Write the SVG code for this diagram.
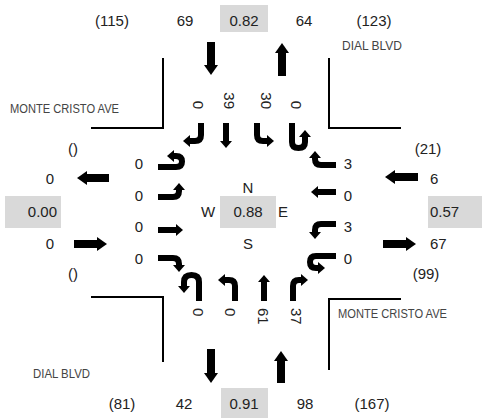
<svg xmlns="http://www.w3.org/2000/svg" width="482" height="418" viewBox="0 0 482 418">
<style>
text{font-family:"Liberation Sans",Arial,sans-serif;fill:#222}
.n{font-size:15px}
.c{text-anchor:middle}
.e{text-anchor:end}
.st{font-size:12px;fill:#444}
.box{fill:#d9d9d9}
.curb{fill:none;stroke:#000;stroke-width:2}
.lane{fill:none;stroke:#000;stroke-width:6;marker-end:url(#lh)}
.big{fill:none;stroke:#000;stroke-width:8;marker-end:url(#bh)}
</style>
<defs>
<marker id="lh" markerUnits="userSpaceOnUse" viewBox="0 0 7 12" markerWidth="7" markerHeight="12" refX="0" refY="6" orient="auto"><path d="M0,0 L7,6 L0,12 z" fill="#000"/></marker>
<marker id="bh" markerUnits="userSpaceOnUse" viewBox="0 0 10 14" markerWidth="10" markerHeight="14" refX="0" refY="7" orient="auto"><path d="M0,0 L10,7 L0,14 z" fill="#000"/></marker>
</defs>
<rect width="482" height="418" fill="#fff"/>

<g id="curbs">
<path class="curb" d="M163,58 V128 H91"/>
<path class="curb" d="M329,58 V128 H401"/>
<path class="curb" d="M91,297 H163 V362"/>
<path class="curb" d="M401,299 H329 V370"/>
</g>

<g id="street-names">
<text class="st" x="10" y="113" textLength="109" lengthAdjust="spacingAndGlyphs">MONTE CRISTO AVE</text>
<text class="st" x="342" y="50">DIAL BLVD</text>
<text class="st" x="338" y="318" textLength="109" lengthAdjust="spacingAndGlyphs">MONTE CRISTO AVE</text>
<text class="st" x="33" y="378" textLength="57" lengthAdjust="spacingAndGlyphs">DIAL BLVD</text>
</g>

<g id="center">
<rect class="box" x="220" y="196" width="56" height="32"/>
<text class="n c" x="248" y="217">0.88</text>
<text class="n c" x="248" y="193">N</text>
<text class="n c" x="248" y="249">S</text>
<text class="n c" x="208" y="217">W</text>
<text class="n c" x="283" y="217">E</text>
</g>

<g id="north">
<rect class="box" x="220" y="5" width="48" height="27"/>
<text class="n c" x="244" y="26">0.82</text>
<text class="n c" x="112" y="26">(115)</text>
<text class="n c" x="185" y="26">69</text>
<text class="n c" x="304" y="26">64</text>
<text class="n c" x="374" y="26">(123)</text>
<path class="big" d="M211,42 V65"/>
<path class="big" d="M282,76 V53"/>
<text class="n e" transform="translate(198,109) rotate(90)" y="5.4">0</text>
<text class="n e" transform="translate(229,109) rotate(90)" y="5.4">39</text>
<text class="n e" transform="translate(266,109) rotate(90)" y="5.4">30</text>
<text class="n e" transform="translate(296,109) rotate(90)" y="5.4">0</text>
<path class="lane" d="M201,123 V135 Q201,141 195,141 H190"/>
<path class="lane" d="M226,123 V141"/>
<path class="lane" d="M257,123 V135 Q257,141 263,141 H267"/>
<path class="lane" d="M292,123 V142 Q292,148 298.5,148 Q305,148 305,142 V137"/>
</g>

<g id="south">
<rect class="box" x="221" y="388" width="47" height="30"/>
<text class="n c" x="244" y="409">0.91</text>
<text class="n c" x="122" y="409">(81)</text>
<text class="n c" x="184" y="409">42</text>
<text class="n c" x="305" y="409">98</text>
<text class="n c" x="372" y="409">(167)</text>
<path class="big" d="M211,349 V373"/>
<path class="big" d="M281,383 V361"/>
<text class="n" transform="translate(198,308) rotate(90)" y="5.4">0</text>
<text class="n" transform="translate(230,308) rotate(90)" y="5.4">0</text>
<text class="n" transform="translate(263,308) rotate(90)" y="5.4">61</text>
<text class="n" transform="translate(296,308) rotate(90)" y="5.4">37</text>
<path class="lane" d="M199,301 V282 Q199,275 191.5,275 Q184,275 184,282 V286"/>
<path class="lane" d="M235,301 V286 Q235,280 229,280 H225"/>
<path class="lane" d="M264,301 V282"/>
<path class="lane" d="M293,301 V286 Q293,280 299,280 H301"/>
</g>

<g id="west">
<rect class="box" x="5" y="196" width="56" height="32"/>
<text class="n e" x="57" y="217">0.00</text>
<text class="n c" x="73" y="154">()</text>
<text class="n c" x="50" y="184">0</text>
<text class="n c" x="50" y="249">0</text>
<text class="n c" x="73" y="279">()</text>
<path class="big" d="M109,178 H87"/>
<path class="big" d="M74,244 H97"/>
<text class="n c" x="139" y="169">0</text>
<text class="n c" x="139" y="201">0</text>
<text class="n c" x="139" y="232">0</text>
<text class="n c" x="139" y="264">0</text>
<path class="lane" d="M158,167 H176 Q182,167 182,161.5 Q182,156 176,156 H174"/>
<path class="lane" d="M158,197 H173 Q179,197 179,191 V190"/>
<path class="lane" d="M158,230 H176"/>
<path class="lane" d="M158,258 H173 Q179,258 179,264 V265"/>
</g>

<g id="east">
<rect class="box" x="428" y="196" width="54" height="32"/>
<text class="n" x="430" y="217">0.57</text>
<text class="n c" x="428" y="154">(21)</text>
<text class="n" x="430" y="184">6</text>
<text class="n" x="430" y="249">67</text>
<text class="n c" x="426" y="279">(99)</text>
<path class="big" d="M418,177 H395"/>
<path class="big" d="M383,244 H406"/>
<text class="n c" x="348" y="169">3</text>
<text class="n c" x="348" y="201">0</text>
<text class="n c" x="348" y="232">3</text>
<text class="n c" x="348" y="264">0</text>
<path class="lane" d="M336,165 H321 Q315,165 315,159 V158"/>
<path class="lane" d="M336,192 H318"/>
<path class="lane" d="M336,224 H321 Q315,224 315,230 V232"/>
<path class="lane" d="M336,256 H316 Q310,256 310,262 Q310,268 316,268 H318"/>
</g>
</svg>
